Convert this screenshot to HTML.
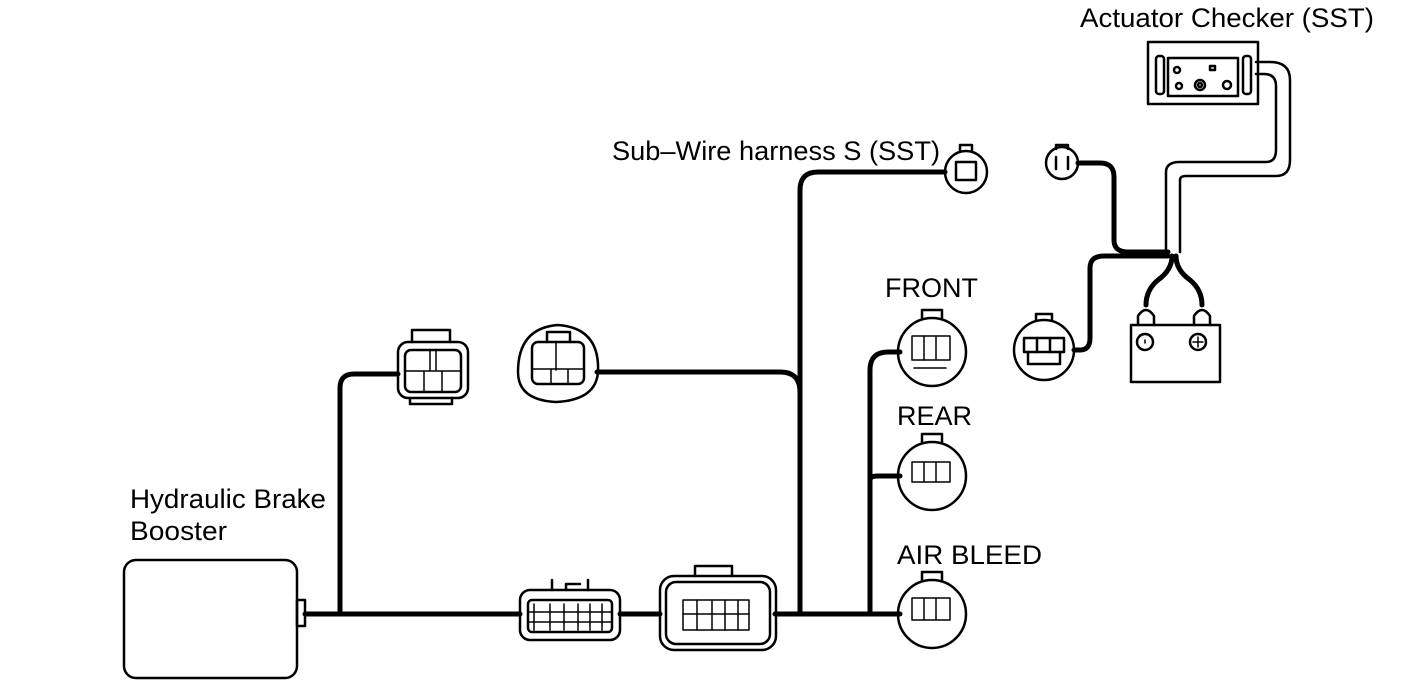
<!DOCTYPE html>
<html><head><meta charset="utf-8"><style>
html,body{margin:0;padding:0;background:#fff;}
svg{display:block}
text{font-family:"Liberation Sans",Arial,sans-serif;font-size:27px;fill:#000}
</style></head><body>
<svg width="1408" height="688" viewBox="0 0 1408 688" xmlns="http://www.w3.org/2000/svg">
<g fill="none" stroke="#000" stroke-width="2.5" stroke-linejoin="round" stroke-linecap="round">
<rect x="124" y="560" width="173" height="118" rx="12"/>
<rect x="297" y="600" width="8" height="26"/>
<g stroke-width="5">
<path d="M305 614 H520"/>
<path d="M340 614 V388 Q340 374 354 374 H398"/>
<path d="M597 372 H780 Q800 372 800 392 V614"/>
<path d="M620 614 H660"/>
<path d="M775 614 H900"/>
<path d="M800 614 V190 Q800 172 818 172 H945"/>
<path d="M870 614 V370 Q870 352 888 352 H900"/>
<path d="M870 480 Q870 476 878 476 H900"/>
<path d="M1078 163 H1100 Q1114 163 1114 177 V240 Q1114 252 1128 252 H1168"/>
<path d="M1074 350 H1080 Q1090 350 1090 338 V268 Q1090 256 1104 256 H1168"/>
<path d="M1172 256 Q1172 270 1158 280 Q1146 290 1146 305"/>
<path d="M1176 256 Q1176 270 1190 280 Q1202 290 1202 305"/>
</g>
<rect x="520" y="590" width="100" height="50" rx="10"/>
<rect x="528" y="600" width="84" height="32" rx="4"/>
<path d="M552 590 V580 M566 590 V584 H580 M588 590 V580"/>
<path d="M534 604 V630 M550 604 V630 M564 604 V630 M578 604 V630 M590 604 V630 M602 604 V630 M528 612 H612 M528 622 H612" stroke-width="1.5"/>
<rect x="660" y="576" width="116" height="74" rx="14"/>
<rect x="666" y="582" width="104" height="62" rx="10"/>
<path d="M695 576 V566 H732 V576"/>
<rect x="683" y="600" width="66" height="30" stroke-width="1.5"/>
<path d="M697 600 V630 M712 600 V630 M725 600 V630 M738 600 V630 M683 614 H749" stroke-width="1.5"/>
<rect x="398" y="342" width="70" height="56" rx="10"/>
<rect x="405" y="350" width="56" height="42" rx="6"/>
<path d="M412 342 V330 H450 V342 M410 398 V404 H452 V398"/>
<path d="M430 350 V371 M436 350 V371 M405 371 H461 M424 371 V392 M442 371 V392" stroke-width="1.5"/>
<path d="M598 372 Q600 328 558 325 Q518 328 518 372 Q518 400 556 402 Q596 400 598 372 Z"/>
<rect x="532" y="342" width="52" height="42" rx="6"/>
<path d="M547 342 V332 H570 V342"/>
<path d="M556 342 V370 M532 369 H584 M551 369 V384 M568 369 V384" stroke-width="1.5"/>
<circle cx="966" cy="172" r="21"/>
<rect x="956" y="162" width="20" height="18"/>
<path d="M960 151 V145 H972 V151"/>
<g>
<circle cx="932" cy="352" r="34"/><path d="M922 318 V310 H942 V318"/>
<rect x="912" y="336" width="38" height="24" stroke-width="1.5"/><path d="M924 336 V360 M936 336 V360 M914 368 H946" stroke-width="1.5"/>
<circle cx="932" cy="476" r="34"/><path d="M922 442 V434 H942 V442"/>
<rect x="912" y="462" width="38" height="20" stroke-width="1.5"/><path d="M924 462 V482 M936 462 V482" stroke-width="1.5"/>
<circle cx="932" cy="614" r="34"/><path d="M922 580 V572 H942 V580"/>
<rect x="912" y="598" width="38" height="22" stroke-width="1.5"/><path d="M924 598 V620 M936 598 V620" stroke-width="1.5"/>
</g>
<circle cx="1062" cy="163" r="16"/><path d="M1056 149 V145 H1068 V149 M1056 157 V169 M1068 157 V169"/>
<circle cx="1044" cy="350" r="30"/><path d="M1036 320 V314 H1052 V320"/>
<rect x="1024" y="338" width="40" height="14"/><path d="M1037 338 V352 M1050 338 V352 M1028 352 V364 H1060 V352"/>
<path d="M1166 252 V172 Q1166 162 1180 162 H1266 Q1276 162 1276 150 V86 Q1276 74 1264 74 H1256"/>
<path d="M1180 252 V180 Q1180 176 1186 176 H1276 Q1290 176 1290 160 V80 Q1290 62 1270 62 H1256"/>
<rect x="1148" y="42" width="110" height="62"/>
<rect x="1156" y="56" width="8" height="38" rx="3"/>
<rect x="1243" y="56" width="8" height="38" rx="3"/>
<rect x="1168" y="58" width="70" height="38"/>
<circle cx="1177" cy="70" r="3"/><rect x="1210" y="66" width="5" height="4"/>
<circle cx="1179" cy="86" r="3"/><circle cx="1200" cy="85" r="5"/><circle cx="1200" cy="85" r="2"/><circle cx="1227" cy="85" r="4"/>
<rect x="1131" y="325" width="89" height="57"/>
<circle cx="1145" cy="342" r="8"/><circle cx="1198" cy="342" r="8"/>
<path d="M1145 340 V343 M1193 342 H1203 M1198 337 V347" stroke-width="1.5"/>
<path d="M1138 325 V316 Q1146 304 1154 316 V325 M1194 325 V316 Q1202 304 1210 316 V325"/>
</g>
<text x="1080" y="27" textLength="294" lengthAdjust="spacingAndGlyphs">Actuator Checker (SST)</text>
<text x="612" y="160" textLength="328" lengthAdjust="spacingAndGlyphs">Sub–Wire harness S (SST)</text>
<text x="885" y="297" textLength="93" lengthAdjust="spacingAndGlyphs">FRONT</text>
<text x="897" y="425" textLength="75" lengthAdjust="spacingAndGlyphs">REAR</text>
<text x="897" y="564" textLength="145" lengthAdjust="spacingAndGlyphs">AIR BLEED</text>
<text x="130" y="508" textLength="196" lengthAdjust="spacingAndGlyphs">Hydraulic Brake</text>
<text x="130" y="540" textLength="97" lengthAdjust="spacingAndGlyphs">Booster</text>
</svg>
</body></html>
